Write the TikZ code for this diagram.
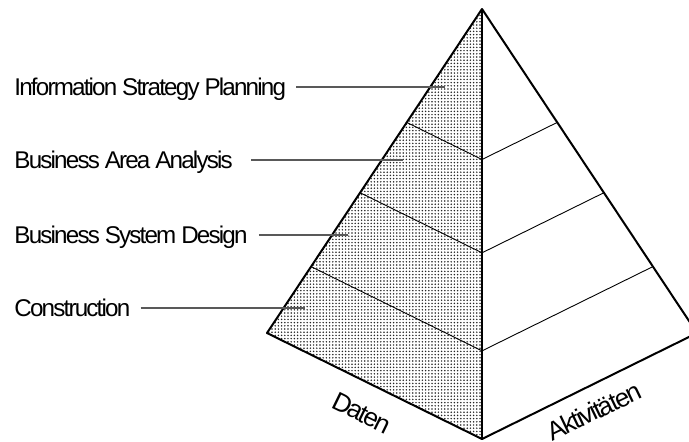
\documentclass[tikz,border=0pt]{standalone}
\usepackage{fontspec}
\newfontfamily\etiqueta[LetterSpace=-7.5]{Liberation Sans}
\usetikzlibrary{calc,patterns.meta}

\begin{document}
\begin{tikzpicture}[x=0.5pt, y=-0.5pt,
    borde/.style={line width=1pt, line join=round},
    nivel/.style={line width=0.45pt},
    guia/.style={line width=0.6pt, color=black!65},
    rotulo/.style={font=\etiqueta\fontsize{12.1}{14}\selectfont, inner sep=0pt, anchor=base west},
    eje/.style={font=\etiqueta\fontsize{13}{15}\selectfont, inner sep=0pt}]

    \useasboundingbox (0,0) rectangle (689,441);

    % Vertices de la piramide
    \coordinate (apex) at (482,9);
    \coordinate (left) at (267,333);
    \coordinate (front) at (482,439);
    \coordinate (right) at (697,333);

    % Pintamos la cara de los datos
    \fill[white] (apex) -- (left) -- (front) -- cycle;
    \fill[pattern={Dots[distance=1.6pt, radius=0.42pt]}, pattern color=black!85]
        (apex) -- (left) -- (front) -- cycle;

    % Dibujamos los niveles
    \foreach \t in {0.35,0.567,0.795}
        \draw[nivel] ($(apex)!\t!(left)$) -- ($(apex)!\t!(front)$) -- ($(apex)!\t!(right)$);

    % Dibujamos las aristas
    \draw[line width=0.7pt] (apex) -- (front);
    \draw[borde] (left) -- (apex) -- (right) -- (front) -- cycle;

    % Nombramos las fases
    \foreach \n/\txt/\y/\g/\xb in {isp/Information Strategy Planning/87/10/445,
                                    baa/Business Area Analysis/160/18/403,
                                    bsd/Business System Design/235/11/348,
                                    con/Construction/308/10/305}
    {
        \node[rotulo] (\n) at (14,\y+8) {\txt};
        \coordinate (\n-fin) at (\xb,\y);
        \draw[guia] ($(\n.base east)+(\g,-8)$) -- (\n-fin);
    }

    % Nombramos las caras
    \node[eje, rotate=-26] (daten) at (362,413) {Daten};
    \node[eje, rotate=25.6] (aktiv) at (594,411) {Aktivitäten};

\end{tikzpicture}
\end{document}
